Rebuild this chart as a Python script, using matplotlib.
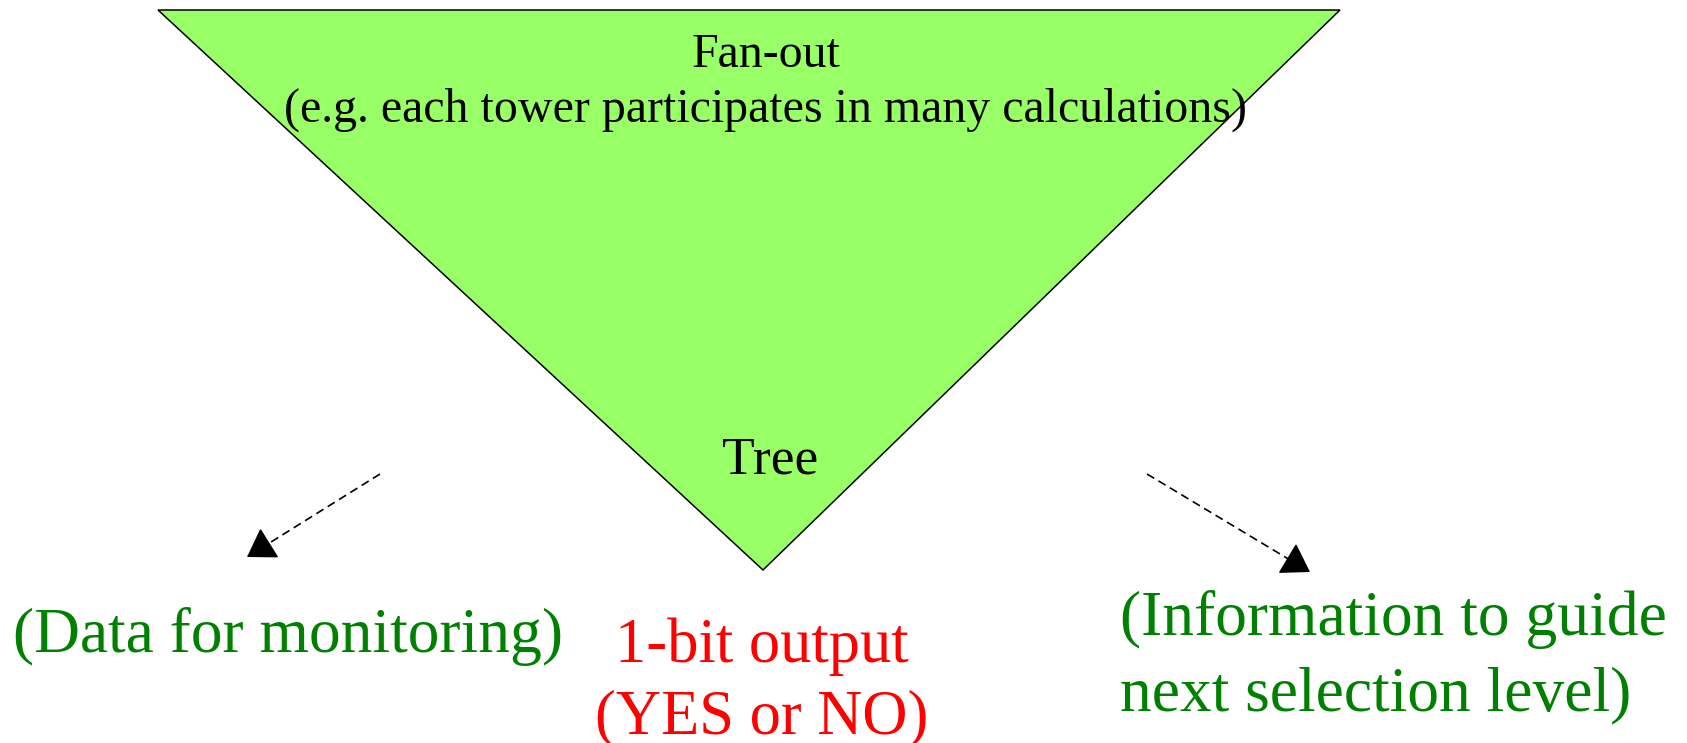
from matplotlib import pyplot as plt
from matplotlib.patches import Polygon
import numpy as np

# triangle corners (pixel space, y down)
tri_x = [158, 1340, 763]
tri_y = [10, 10, 570]

# dashed arrows: start -> tip
arrow_start = [(380, 474), (1147, 474)]
arrow_end = [(247, 557), (1310, 572)]

# texts
fan_lines = ['Fan-out', '(e.g. each tower participates in many calculations)']
tree_label = 'Tree'
left_lines = ['(Data for monitoring)']
mid_lines = ['1-bit output', '(YES or NO)']
right_lines = ['(Information to guide', 'next selection level)']

W, H = 1687, 743
fig = plt.figure(figsize=(W / 100, H / 100), dpi=100)
ax = fig.add_axes([0, 0, 1, 1])
ax.set_xlim(0, W)
ax.set_ylim(H, 0)
ax.axis('off')

ax.add_patch(Polygon(list(zip(tri_x, tri_y)), closed=True,
                     facecolor='#99FF66', edgecolor='black', lw=1.1))

for s, e in zip(arrow_start, arrow_end):
    s, e = np.array(s, float), np.array(e, float)
    u = (e - s) / np.hypot(*(e - s))
    back = e - u * 18  # base of head
    ax.plot([s[0], back[0]], [s[1], back[1]], color='black', lw=1.2,
            linestyle=(0, (5, 3)))
    ax.annotate('', xy=e, xytext=back,
                arrowprops=dict(arrowstyle='-|>,head_length=0.7,head_width=0.45',
                                mutation_scale=25, color='black', lw=1.1,
                                shrinkA=0, shrinkB=0))

font = 'Liberation Serif'

def lines(txts, x, y0, dy, size, color, ha):
    for i, t in enumerate(txts):
        ax.text(x, y0 + i * dy, t, fontsize=size, color=color, ha=ha,
                va='baseline', family=font)

lines(fan_lines, 766, 67, 55, 34.5, 'black', 'center')
lines([tree_label], 770, 473, 0, 38.5, 'black', 'center')
lines(left_lines, 13, 652, 0, 45.7, '#008000', 'left')
lines(mid_lines, 762, 662, 71, 45, '#FF0000', 'center')
lines(right_lines, 1120, 635, 75, 45.7, '#008000', 'left')

fig.savefig('out.png', dpi=100)
